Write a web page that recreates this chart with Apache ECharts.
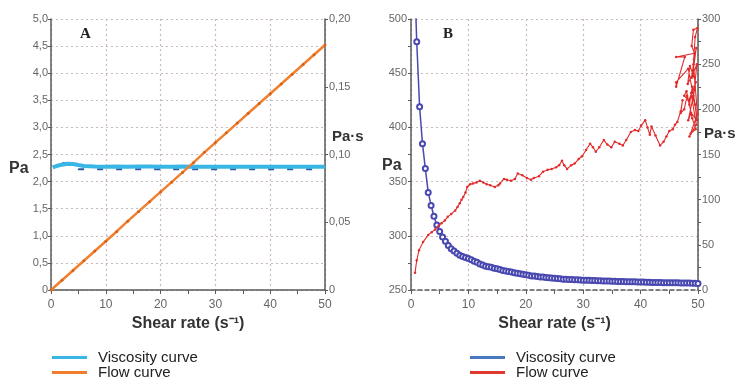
<!DOCTYPE html>
<html><head><meta charset="utf-8">
<script src="https://cdn.jsdelivr.net/npm/echarts@6/dist/echarts.min.js"></script>
<style>html,body{margin:0;padding:0;background:#fff}#c{width:737px;height:380px}</style>
</head><body><div id="c"></div>
<script>
// ---------- Panel A data ----------
const shearA = [0,2,4,6,8,10,12,14,16,18,20,22,24,26,28,30,32,34,36,38,40,42,44,46,48,50];
const flowA = [0,0.18,0.36,0.54,0.72,0.90,1.08,1.27,1.45,1.63,1.81,1.99,2.17,2.35,2.54,2.72,2.90,3.08,3.26,3.44,3.62,3.80,3.98,4.16,4.34,4.52];
const shearViscA = [0.3,1,2,3,4,5,6,8,10,12,14,16,18,20,22,24,26,28,30,32,34,36,38,40,42,44,46,48,50];
const viscA = [0.0905,0.0915,0.0925,0.0932,0.0930,0.0922,0.0915,0.0912,0.0910,0.0911,0.0910,0.0912,0.0911,0.0909,0.0910,0.0911,0.0910,0.0909,0.0910,0.0910,0.0910,0.0909,0.0910,0.0910,0.0909,0.0910,0.0910,0.0909,0.0910];
const shearViscA2 = [2,4,5,50];
const viscA2 = [0.0935,0.0938,0.0892,0.0892];
const ticksLeftA = ['0','0,5','1,0','1,5','2,0','2,5','3,0','3,5','4,0','4,5','5,0'];
const ticksRightA = ['0','0,05','0,10','0,15','0,20'];

// ---------- Panel B data ----------
const shearB = [0.5,1,1.5,2,2.5,3,3.5,4,4.5,5,5.5,6,6.5,7,7.5,8,8.5,9,9.5,10,10.5,11,11.5,12,12.5,13,13.5,14,14.5,15,15.5,16,16.5,17,17.5,18,18.5,19,19.5,20,20.5,21,21.5,22,22.5,23,23.5,24,24.5,25,25.5,26,26.5,27,27.5,28,28.5,29,29.5,30,30.5,31,31.5,32,32.5,33,33.5,34,34.5,35,35.5,36,36.5,37,37.5,38,38.5,39,39.5,40,40.5,41,41.5,42,42.5,43,43.5,44,44.5,45,45.5,46,46.5,47,47.5,48,48.5,49,49.5,50];
const viscB = [560,479,419,385,362,340,328,318,310,304,299,295,291,288,286,284,282,281,280,279,278,276.5,275.5,274,273,272,271.5,271,270,269.5,269,268,267.5,267,266.5,266,265.5,265,264.5,264,263.5,263,263,262.5,262,262,261.5,261.3,261,260.8,260.5,260.3,260,260,259.8,259.6,259.5,259.4,259.2,259,259,258.9,258.8,258.7,258.6,258.5,258.4,258.3,258.2,258.1,258,257.9,257.8,257.8,257.7,257.6,257.5,257.5,257.4,257.3,257.3,257.2,257.1,257,257,256.9,256.9,256.8,256.8,256.7,256.7,256.6,256.6,256.5,256.5,256.4,256.4,256.3,256.2,256];
const shearFlowB = [0.7,1.0,1.4,2.1,3.0,3.6,4.2,4.8,5.3,5.9,6.4,7.0,7.7,8.1,8.5,8.8,9.1,9.5,9.8,10.3,10.8,11.4,12.0,12.6,13.2,13.8,14.6,15.2,15.5,16.2,16.7,17.4,18.1,18.6,19.4,20.2,20.9,21.4,22.3,23.0,23.8,24.5,25.3,25.8,26.3,26.7,27.2,27.9,28.5,29.2,29.8,30.5,31.2,31.7,32.2,32.8,33.6,34.2,34.9,35.5,36.3,36.9,37.5,38.3,39.0,39.6,40.1,40.8,41.2,41.6,41.9,42.6,43.4,44.0,44.5,45.0,45.6,46.0,46.4,47.0,47.3,47.0,47.6,48.1,48.5,49.0,49.5,49.8,48.8,48.3,49.2,49.6,48.6,48.2,49.1,49.7,49.3,48.9,49.8,49.4,48.4,47.6,48.0,49.0,49.6,48.7,49.9,49.2,49.5,49.9,49.2,48.9,49.4,46.2,47.7,46.2,46.2,48.3,49.5,48.8,49.7,48.5,49.9];
const flowB = [19,33,44,53,61,64,67,71,74,77,81,84,88,92,96,100,103,108,114,117,118,119,121,119,117,116,114,116,118,123,122,121,123,129,127,124,122,124,126,131,133,134,136,138,143,138,134,138,140,145,148,155,162,158,153,158,166,161,158,164,162,160,166,175,177,176,182,188,180,172,181,171,160,164,170,176,178,183,186,198,210,196,200,215,205,225,205,188,196,188,215,230,248,228,240,268,255,235,250,225,210,215,220,190,178,173,195,250,280,290,288,270,262,258,258,225,230,245,205,218,183,170];
const ticksLeftB = ['250','300','350','400','450','500'];
const ticksRightB = ['0','50','100','150','200','250','300'];

const pairs = (xs, ys) => xs.map((x, i) => [x, ys[i]]);

const labelFont = '"Liberation Sans",Arial,sans-serif';
const gridLine = {show: true, lineStyle: {color: '#c9b9b9', type: [2, 3], width: 1.2}};
const axisLineDark = {show: true, lineStyle: {color: '#5a5a5a', width: 1.5}};
const lbl = {color: '#666', fontFamily: labelFont, fontSize: 11};

function xAxisDef(gi, dashed) {
  return {
    type: 'value', gridIndex: gi, min: 0, max: 50, interval: 10,
    axisLine: {show: true, onZero: false, lineStyle: {color: '#5a5a5a', width: 1.5, type: dashed ? [4, 3] : 'solid'}},
    axisTick: {show: true, length: 4, lineStyle: {color: '#5a5a5a'}},
    minorTick: {show: true, splitNumber: 2, length: 4, lineStyle: {color: '#5a5a5a'}},
    splitLine: gridLine,
    axisLabel: Object.assign({margin: 9}, lbl, {fontSize: 12}),
    name: 'Shear rate (s\u207B\u00B9)', nameLocation: 'middle', nameGap: 22,
    nameTextStyle: {fontFamily: 'Liberation Sans, Arial, sans-serif', fontWeight: 'bold', fontSize: 16, color: '#333'}
  };
}

function legendItem(left, top, name, color) {
  return {left: left, top: top, padding: 0, orient: 'vertical', itemGap: 4, itemWidth: 35, itemHeight: 3, icon: 'rect',
    textStyle: {fontFamily: 'Liberation Sans, Arial, sans-serif', fontSize: 15, color: '#222', padding: [0, 0, 0, 6]},
    data: [{name: name, itemStyle: {color: color}}]};
}

const option = {
  animation: false,
  backgroundColor: '#fff',
  grid: [
    {left: 51, top: 19, width: 274, height: 271},
    {left: 411, top: 19, width: 287, height: 271}
  ],
  xAxis: [xAxisDef(0, false), xAxisDef(1, true)],
  yAxis: [
    {type: 'value', gridIndex: 0, min: 0, max: 5, interval: 0.5, position: 'left',
     axisLine: axisLineDark, axisTick: {show: true, length: 3, lineStyle: {color: '#5a5a5a'}},
     splitLine: gridLine,
     axisLabel: Object.assign({margin: 3, formatter: (v) => ticksLeftA[Math.round(v / 0.5)]}, lbl)},
    {type: 'value', gridIndex: 0, min: 0, max: 0.2, interval: 0.05, position: 'right',
     axisLine: axisLineDark, axisTick: {show: true, length: 3, lineStyle: {color: '#5a5a5a'}},
     splitLine: {show: false},
     axisLabel: Object.assign({margin: 4, formatter: (v) => ticksRightA[Math.round(v / 0.05)]}, lbl)},
    {type: 'value', gridIndex: 1, min: 250, max: 500, interval: 50, position: 'left',
     axisLine: axisLineDark, axisTick: {show: true, length: 3, lineStyle: {color: '#5a5a5a'}},
     minorTick: {show: true, splitNumber: 2, length: 3, lineStyle: {color: '#5a5a5a'}},
     splitLine: gridLine,
     axisLabel: Object.assign({margin: 4, formatter: (v) => ticksLeftB[Math.round((v - 250) / 50)]}, lbl)},
    {type: 'value', gridIndex: 1, min: 0, max: 300, interval: 50, position: 'right',
     axisLine: axisLineDark, axisTick: {show: true, length: 3, lineStyle: {color: '#5a5a5a'}},
     minorTick: {show: true, splitNumber: 2, length: 3, lineStyle: {color: '#5a5a5a'}},
     splitLine: {show: false},
     axisLabel: Object.assign({margin: 4, formatter: (v) => ticksRightB[Math.round(v / 50)]}, lbl)}
  ],
  legend: [
    legendItem(52, 350, 'Viscosity curve', '#3ab6e6'),
    legendItem(52, 365, 'Flow curve', '#ef7d2c'),
    legendItem(470, 350, 'Viscosity curve', '#4a78c0'),
    legendItem(470, 365, 'Flow curve', '#e03a30')
  ],
  graphic: [
    {type: 'text', left: 80, top: 27, style: {text: 'A', font: 'bold 15px "Liberation Serif", "DejaVu Serif", serif', fill: '#222'}},
    {type: 'text', left: 443, top: 27, style: {text: 'B', font: 'bold 15px "Liberation Serif", "DejaVu Serif", serif', fill: '#222'}},
    {type: 'text', left: 9, top: 161, style: {text: 'Pa', font: 'bold 16px "Liberation Sans", Arial, sans-serif', fill: '#333'}},
    {type: 'text', left: 332, top: 129, style: {text: 'Pa\u00B7s', font: 'bold 15px "Liberation Sans", Arial, sans-serif', fill: '#333'}},
    {type: 'text', left: 382, top: 158, style: {text: 'Pa', font: 'bold 16px "Liberation Sans", Arial, sans-serif', fill: '#333'}},
    {type: 'text', left: 704, top: 126, style: {text: 'Pa\u00B7s', font: 'bold 15px "Liberation Sans", Arial, sans-serif', fill: '#333'}}
  ],
  series: [
    {name: 'Viscosity curve', type: 'line', xAxisIndex: 0, yAxisIndex: 1, data: pairs(shearViscA, viscA),
     showSymbol: false, symbol: 'none', lineStyle: {color: '#3ab6e6', width: 4}, itemStyle: {color: '#3ab6e6'}, z: 3},
    {name: '_viscA_dark', type: 'line', xAxisIndex: 0, yAxisIndex: 1, data: pairs(shearViscA2, viscA2),
     symbol: 'none', lineStyle: {color: '#2a5ba0', width: 2, type: [6, 13]}, z: 2},
    {name: 'Flow curve', type: 'line', xAxisIndex: 0, yAxisIndex: 0, data: pairs(shearA, flowA),
     symbol: 'circle', symbolSize: 3, lineStyle: {color: '#f08030', width: 2.5}, itemStyle: {color: '#d6621c'}, z: 4},
    {name: 'Viscosity curve', type: 'line', xAxisIndex: 1, yAxisIndex: 2, data: pairs(shearB, viscB),
     symbol: 'emptyCircle', symbolSize: 5, clip: true,
     lineStyle: {color: '#4848b0', width: 1.5}, itemStyle: {color: '#4848b0', borderWidth: 1.2}, z: 3},
    {name: 'Flow curve', type: 'line', xAxisIndex: 1, yAxisIndex: 3, data: pairs(shearFlowB, flowB),
     symbol: 'circle', symbolSize: 2.5,
     lineStyle: {color: '#e22c2c', width: 1.1}, itemStyle: {color: '#e22c2c'}, z: 4}
  ]
};
const chart = echarts.init(document.getElementById('c'), null, {renderer: 'canvas'});
chart.setOption(option);
</script>
</body></html>
